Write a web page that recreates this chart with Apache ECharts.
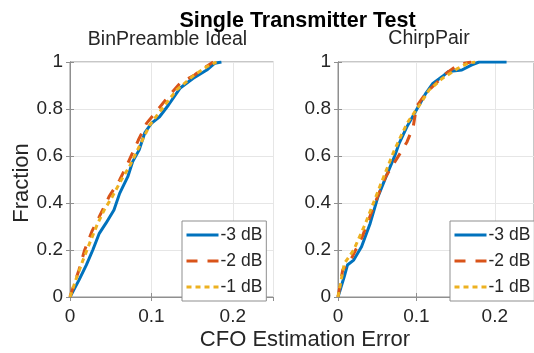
<!DOCTYPE html>
<html><head><meta charset="utf-8">
<script src="https://cdn.jsdelivr.net/npm/echarts@6/dist/echarts.min.js"></script>
<style>html,body{margin:0;padding:0;background:#fff}#c{width:534px;height:353px}</style>
</head><body><div id="c"></div>
<script>
// ---- data ----
const seriesNames = ['-3 dB', '-2 dB', '-1 dB'];
const panelTitles = ['BinPreamble Ideal', 'ChirpPair'];
const xTickStep = 0.1;
const yTickStep = 0.2;

// BinPreamble Ideal: [CFO error, fraction]
const binM3 = [[0,0],[0.011,0.072],[0.020,0.136],[0.028,0.2],[0.036,0.271],[0.044,0.313],[0.054,0.37],[0.061,0.441],[0.071,0.512],[0.077,0.576],[0.085,0.626],[0.092,0.70],[0.100,0.739],[0.110,0.767],[0.121,0.817],[0.135,0.888],[0.151,0.930],[0.168,0.966],[0.178,0.995],[0.186,1]];
const binM2 = [[0,0],[0.011,0.115],[0.018,0.2],[0.027,0.28],[0.036,0.342],[0.048,0.427],[0.061,0.498],[0.071,0.569],[0.084,0.668],[0.094,0.739],[0.106,0.789],[0.119,0.846],[0.135,0.909],[0.153,0.945],[0.164,0.973],[0.176,1]];
const binM1 = [[0,0],[0.007,0.072],[0.016,0.157],[0.024,0.228],[0.034,0.313],[0.042,0.37],[0.052,0.427],[0.063,0.498],[0.073,0.555],[0.083,0.626],[0.098,0.732],[0.115,0.810],[0.131,0.881],[0.151,0.94],[0.168,0.98],[0.180,1]];

// ChirpPair
const chirpM3 = [[0,0],[0.008,0.087],[0.012,0.136],[0.020,0.157],[0.030,0.214],[0.041,0.313],[0.051,0.427],[0.063,0.526],[0.072,0.597],[0.078,0.654],[0.088,0.725],[0.100,0.796],[0.112,0.867],[0.121,0.909],[0.133,0.938],[0.141,0.96],[0.158,0.966],[0.170,0.987],[0.180,1],[0.215,1]];
const chirpM2 = [[0,0],[0.006,0.115],[0.018,0.17],[0.031,0.257],[0.047,0.398],[0.061,0.513],[0.074,0.583],[0.082,0.626],[0.088,0.66],[0.096,0.725],[0.100,0.81],[0.112,0.867],[0.127,0.916],[0.135,0.945],[0.150,0.98],[0.162,0.995],[0.170,1]];
const chirpM1 = [[0,0],[0.008,0.142],[0.020,0.2],[0.035,0.313],[0.055,0.484],[0.072,0.626],[0.088,0.739],[0.104,0.817],[0.116,0.88],[0.133,0.93],[0.153,0.973],[0.166,0.995],[0.175,1]];

// ---- styling ----
const FONT = '"Liberation Sans", Arial, sans-serif';
const TXT = '#262626';
const AX = '#8f8f8f';
const colors = ['#0072BD', '#D95319', '#EDB120'];
const dashes = ['solid', [11, 10], [5, 4]];
const panels = [[binM3, binM2, binM1], [chirpM3, chirpM2, chirpM1]];
const grids = [
  {left: 70, top: 62, width: 203.5, height: 235},
  {left: 338, top: 62, width: 204, height: 235}
];

function axisCommon(mirror) {
  return {
    axisLine: {show: true, lineStyle: {color: AX, width: 1}},
    axisTick: {show: true, inside: true, length: 4, lineStyle: {color: AX}},
    splitLine: {show: !mirror, lineStyle: {color: '#e6e6e6', width: 1}},
    axisLabel: {show: !mirror, color: TXT, fontSize: 19, fontFamily: FONT}
  };
}

const xAxis = [], yAxis = [], series = [], legend = [];
grids.forEach((g, i) => {
  const xa = axisCommon(false);
  xa.axisLabel.margin = 10;
  xa.axisLabel.showMaxLabel = false;
  xAxis.push(Object.assign({gridIndex: i, type: 'value', position: 'bottom', min: 0, max: 0.25, interval: xTickStep}, xa));
  const ya = axisCommon(false);
  ya.axisLabel.margin = 7;
  yAxis.push(Object.assign({gridIndex: i, type: 'value', position: 'left', min: 0, max: 1, interval: yTickStep}, ya));
  panels[i].forEach((d, k) => {
    series.push({
      type: 'line', name: seriesNames[k], xAxisIndex: i, yAxisIndex: i,
      data: d, symbol: 'none', showSymbol: false, animation: false,
      lineStyle: {color: colors[k], width: 3, type: dashes[k]},
      itemStyle: {color: colors[k]}, z: 2 + k
    });
  });
  legend.push({
    data: seriesNames, orient: 'vertical',
    left: i === 0 ? 182 : 450, top: 221,
    itemWidth: 32, itemHeight: 14, itemGap: 8,
    padding: [5, 4, 5, 3],
    borderColor: AX, borderWidth: 1, backgroundColor: '#fff',
    itemStyle: {opacity: 0},
    lineStyle: {width: 3},
    textStyle: {fontSize: 17.5, color: TXT, fontFamily: FONT, padding: [0, 0, 0, -3]},
    selectedMode: false, z: 10
  });
});
// mirrored (box) ticks on top and right
grids.forEach((g, i) => {
  xAxis.push(Object.assign({gridIndex: i, type: 'value', position: 'top', min: 0, max: 0.25, interval: xTickStep}, axisCommon(true)));
  yAxis.push(Object.assign({gridIndex: i, type: 'value', position: 'right', min: 0, max: 1, interval: yTickStep}, axisCommon(true)));
});

const graphic = [
  {type: 'text', x: 297.5, y: 21, style: {text: 'Single Transmitter Test', font: 'bold 21.5px ' + FONT, fill: '#000', textAlign: 'center', textVerticalAlign: 'middle'}},
  {type: 'text', x: 167.5, y: 40, style: {text: panelTitles[0], font: '19.5px ' + FONT, fill: TXT, textAlign: 'center', textVerticalAlign: 'middle'}},
  {type: 'text', x: 429, y: 39, style: {text: panelTitles[1], font: '19.5px ' + FONT, fill: TXT, textAlign: 'center', textVerticalAlign: 'middle'}},
  {type: 'text', x: 305, y: 340, style: {text: 'CFO Estimation Error', font: '22px ' + FONT, fill: TXT, textAlign: 'center', textVerticalAlign: 'middle'}},
  {type: 'text', x: 22, y: 183, rotation: Math.PI / 2, style: {text: 'Fraction', font: '22px ' + FONT, fill: TXT, textAlign: 'center', textVerticalAlign: 'middle'}}
];

const chart = echarts.init(document.getElementById('c'), null, {renderer: 'canvas'});
chart.setOption({
  animation: false,
  backgroundColor: '#fff',
  grid: grids.map(g => Object.assign({show: true, borderColor: AX, borderWidth: 1, backgroundColor: 'transparent'}, g)),
  xAxis, yAxis, series, legend, graphic
});
</script></body></html>
